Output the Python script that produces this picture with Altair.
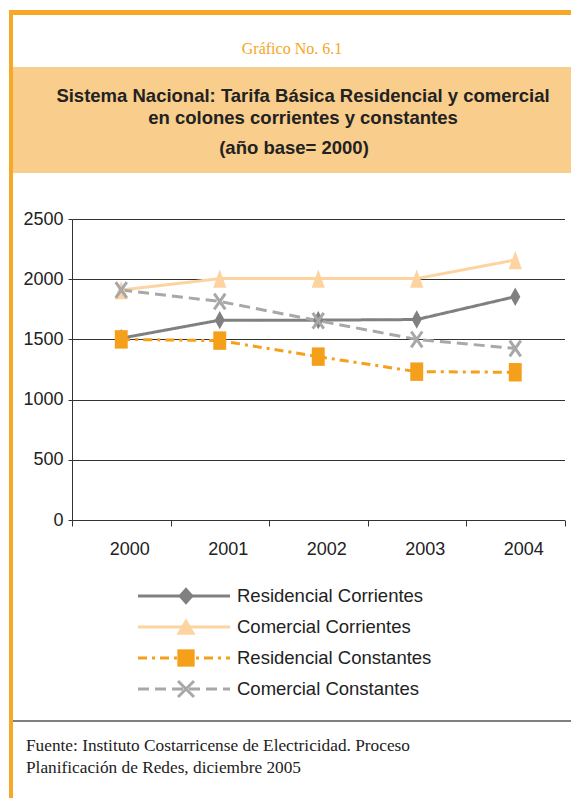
import altair as alt
import pandas as pd

# ---------------- data ----------------
years = ["2000", "2001", "2002", "2003", "2004"]
series_names = [
    "Residencial Corrientes",
    "Comercial Corrientes",
    "Residencial Constantes",
    "Comercial Constantes",
]
res_corrientes = [1510, 1660, 1660, 1665, 1855]
com_corrientes = [1910, 2005, 2005, 2005, 2160]
res_constantes = [1500, 1490, 1357, 1232, 1227]
com_constantes = [1910, 1815, 1655, 1500, 1425]
y_ticks = [0, 500, 1000, 1500, 2000, 2500]

header_text = "Gráfico No. 6.1"
title_lines = [
    "Sistema Nacional: Tarifa Básica Residencial y comercial",
    "en colones corrientes y constantes",
    "(año base= 2000)",
]
footer_lines = [
    "Fuente: Instituto Costarricense de Electricidad. Proceso",
    "Planificación de Redes, diciembre 2005",
]

# ---------------- styles ----------------
colors = ["#808080", "#FDD3A0", "#F5A01A", "#A8A8AA"]
dashes = [[1, 0], [1, 0], [9, 5, 3, 5], [11, 6]]
ORANGE = "#F7A829"
PEACH = "#F9CD8B"
FONT = "Liberation Sans"
SERIF = "Liberation Serif"

diamond = "M0,-1L0.55,0L0,1L-0.55,0Z"
triangle = "M0,-1L0.72,1L-0.72,1Z"
square = "M-0.7,-1H0.7V1H-0.7Z"
xcross = "M-0.7,-1L0.7,1M0.7,-1L-0.7,1"

leg_diamond = "M0,-1L0.9,0L0,1L-0.9,0Z"
leg_triangle = "M0,-1L1.1,0.9L-1.1,0.9Z"
leg_square = "M-1,-1H1V1H-1Z"
leg_x = "M-1,-1L1,1M1,-1L-1,1"

rows = []
for name, vals in zip(series_names, [res_corrientes, com_corrientes, res_constantes, com_constantes]):
    for yr, v in zip(years, vals):
        rows.append({"serie": name, "year": yr, "value": v})
df = pd.DataFrame(rows)
leg_df = pd.DataFrame({"serie": series_names})
one = pd.DataFrame({"k": [0]})

W, H = 492.5, 301

x_enc = alt.X(
    "year:O",
    bandPosition=0.5,
    scale=alt.Scale(type="band", domain=years, paddingInner=0, paddingOuter=0),
    axis=alt.Axis(
        title=None, labelAngle=0, tickBand="extent", grid=False,
        domainColor="#333333", domainWidth=1, tickColor="#333333", tickSize=6,
        labelFont=FONT, labelFontSize=18, labelColor="#222222", labelPadding=14,
        labelOffset=8,
    ),
)
x_enc_noaxis = alt.X(
    "year:O",
    bandPosition=0.5,
    scale=alt.Scale(type="band", domain=years, paddingInner=0, paddingOuter=0),
    axis=None,
)
y_enc = alt.Y(
    "value:Q",
    scale=alt.Scale(domain=[0, 2500], nice=False, zero=True),
    axis=alt.Axis(
        title=None, values=y_ticks, format="d", grid=True, gridColor="#333333", gridWidth=1,
        domainColor="#333333", tickColor="#333333", tickSize=4,
        labelFont=FONT, labelFontSize=18, labelColor="#222222", labelPadding=5,
    ),
)
y_enc_noaxis = alt.Y("value:Q", scale=alt.Scale(domain=[0, 2500], nice=False, zero=True), axis=None)

color_enc = alt.Color("serie:N", scale=alt.Scale(domain=series_names, range=colors), legend=None)
dash_enc = alt.StrokeDash("serie:N", scale=alt.Scale(domain=series_names, range=dashes), legend=None)

lines = alt.Chart(df).mark_line(strokeWidth=3, strokeCap="butt").encode(
    x=x_enc, y=y_enc, color=color_enc, strokeDash=dash_enc
)
pts_filled = alt.Chart(df).transform_filter(
    alt.datum.serie != series_names[3]
).mark_point(filled=True, size=340, opacity=1).encode(
    x=x_enc_noaxis, y=y_enc_noaxis, color=color_enc,
    shape=alt.Shape("serie:N", scale=alt.Scale(domain=series_names[:3], range=[diamond, triangle, square]), legend=None),
)
pts_x = alt.Chart(df).transform_filter(
    alt.datum.serie == series_names[3]
).mark_point(shape=xcross, filled=False, size=250, strokeWidth=3, opacity=1, color=colors[3]).encode(
    x=x_enc_noaxis, y=y_enc_noaxis
)

# ---------------- legend (drawn as marks) ----------------
leg_y = alt.Y("serie:N", scale=alt.Scale(type="point", domain=series_names, range=[377, 470], padding=0), axis=None)
leg_lines = alt.Chart(leg_df).mark_rule(strokeWidth=3, strokeCap="butt").encode(
    x=alt.value(66), x2=alt.value(158), y=leg_y, color=color_enc, strokeDash=dash_enc
)
leg_pts = alt.Chart(leg_df).transform_filter(
    alt.datum.serie != series_names[3]
).mark_point(filled=True, size=300, opacity=1).encode(
    x=alt.value(114), y=leg_y, color=color_enc,
    shape=alt.Shape("serie:N", scale=alt.Scale(domain=series_names[:3], range=[leg_diamond, leg_triangle, leg_square]), legend=None),
)
leg_x_pt = alt.Chart(leg_df).transform_filter(
    alt.datum.serie == series_names[3]
).mark_point(shape=leg_x, filled=False, size=256, strokeWidth=3, opacity=1, color=colors[3]).encode(
    x=alt.value(114), y=leg_y
)
leg_text = alt.Chart(leg_df).mark_text(
    align="left", baseline="middle", font=FONT, fontSize=18.5, color="#222222"
).encode(x=alt.value(165), y=leg_y, text="serie:N")

# ---------------- frame and texts ----------------
def rect(x, x2, y, y2, color):
    return alt.Chart(one).mark_rect(color=color).encode(
        x=alt.value(x), x2=alt.value(x2), y=alt.value(y), y2=alt.value(y2)
    )

frame_left = rect(-63, -59, -209, 590, ORANGE)
frame_top = rect(-63, 510, -209, -204, ORANGE)
band = rect(-59, 510, -152, -46, PEACH)
sep = alt.Chart(one).mark_rule(color="#555555", strokeWidth=1.5).encode(
    x=alt.value(-59), x2=alt.value(510), y=alt.value(502)
)

def text(s, x, y, font, size, color, weight="normal", align="center"):
    return alt.Chart(one).mark_text(
        text=s, font=font, fontSize=size, color=color, fontWeight=weight,
        align=align, baseline="alphabetic",
    ).encode(x=alt.value(x), y=alt.value(y))

header = text(header_text, 220, -165, SERIF, 16, "#F5A623")
t1 = text(title_lines[0], 231, -117, FONT, 18.5, "#222222", "bold")
t2 = text(title_lines[1], 231, -95, FONT, 18.5, "#222222", "bold")
t3 = text(title_lines[2], 222, -65, FONT, 18.5, "#222222", "bold")
f1 = text(footer_lines[0], -46, 532, SERIF, 17.3, "#222222", align="left")
f2 = text(footer_lines[1], -46, 554, SERIF, 17.3, "#222222", align="left")

chart = alt.layer(
    frame_left, frame_top, band, sep,
    header, t1, t2, t3, f1, f2,
    lines, pts_filled, pts_x,
    leg_lines, leg_pts, leg_x_pt, leg_text,
).resolve_scale(
    x="independent", y="independent", shape="independent"
).properties(
    width=W, height=H,
    padding={"left": 72, "top": 219, "right": 6.5, "bottom": 278},
    autosize=alt.AutoSizeParams(type="none"),
    background="white",
).configure_view(stroke=None)

chart.save("out.html", embed_options={"renderer": "svg", "actions": False})
